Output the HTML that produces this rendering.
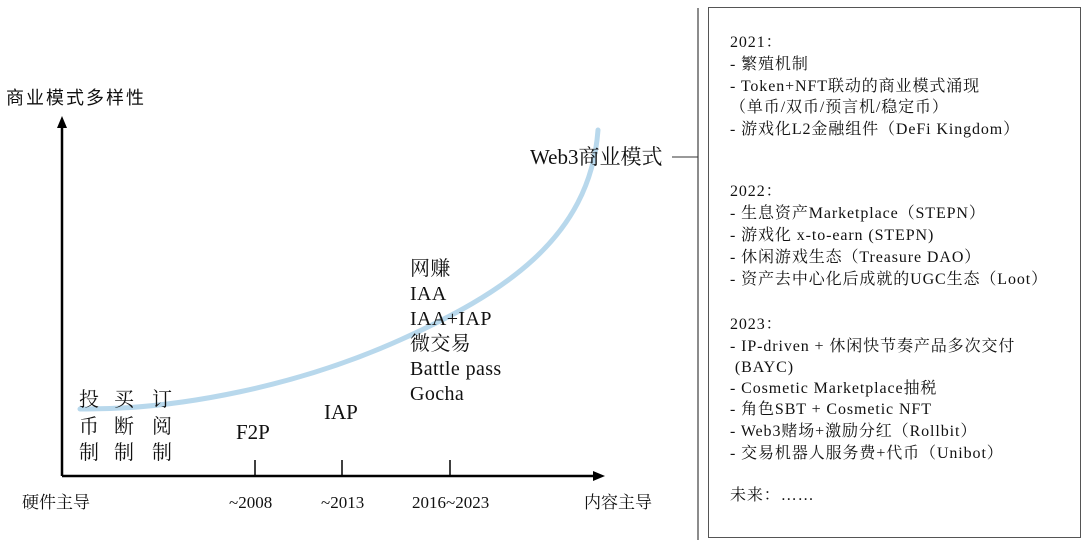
<!DOCTYPE html>
<html><head><meta charset="utf-8"><style>
body{margin:0;width:1087px;height:546px;background:#fff;overflow:hidden;position:relative;font-family:"Liberation Serif","Noto Serif CJK SC",serif;color:#111}
.t{position:absolute;white-space:nowrap;line-height:1}
.box{position:absolute;left:708px;top:7px;width:373px;height:531px;border:1px solid #555;box-sizing:border-box}
.r{position:absolute;left:730px;font-size:16px;letter-spacing:0.9px;white-space:nowrap;line-height:1}
</style></head><body>
<svg width="1087" height="546" style="position:absolute;left:0;top:0">
<line x1="698" y1="8" x2="698" y2="540" stroke="#666" stroke-width="1.5"/>
<line x1="672" y1="157" x2="698" y2="157" stroke="#333" stroke-width="1"/>
<line x1="62" y1="476" x2="62" y2="124" stroke="#000" stroke-width="2.5"/>
<polygon points="62,116 57,128 67,128" fill="#000"/>
<line x1="62" y1="476" x2="596" y2="476" stroke="#000" stroke-width="2.5"/>
<polygon points="605,476 593,471 593,481" fill="#000"/>
<line x1="255" y1="460" x2="255" y2="476" stroke="#000" stroke-width="1.5"/>
<line x1="342" y1="460" x2="342" y2="476" stroke="#000" stroke-width="1.5"/>
<line x1="450" y1="460" x2="450" y2="476" stroke="#000" stroke-width="1.5"/>
<path d="M80,409 C180,410 300,385 400,340 C500,295 590,240 598,130" fill="none" stroke="#b8d8ec" stroke-width="5" stroke-linecap="round"/>
</svg>
<div class="t" style="left:6px;top:89px;font-size:18px;letter-spacing:2px;font-family:'Liberation Sans','Noto Sans CJK SC',sans-serif">商业模式多样性</div>
<div class="t" style="left:22px;top:494px;font-size:17px">硬件主导</div>
<div class="t" style="left:229px;top:494px;font-size:17px">~2008</div>
<div class="t" style="left:321px;top:494px;font-size:17px">~2013</div>
<div class="t" style="left:412px;top:494px;font-size:17px">2016~2023</div>
<div class="t" style="left:584px;top:494px;font-size:17px">内容主导</div>
<div class="t" style="left:530px;top:147px;font-size:21px">Web3商业模式</div>
<div class="t" style="left:410px;top:257px;font-size:20px;letter-spacing:0.4px;line-height:25px">网赚<br>IAA<br>IAA+IAP<br>微交易<br>Battle pass<br>Gocha</div>
<div class="t" style="left:324px;top:402px;font-size:21px">IAP</div>
<div class="t" style="left:236px;top:422px;font-size:21px">F2P</div>
<div class="t" style="left:79px;top:387px;font-size:20px;line-height:26.5px">投<br>币<br>制</div>
<div class="t" style="left:114px;top:387px;font-size:20px;line-height:26.5px">买<br>断<br>制</div>
<div class="t" style="left:152px;top:387px;font-size:20px;line-height:26.5px">订<br>阅<br>制</div>
<div class="box"></div>
<div class="r" style="top:35px">2021：</div>
<div class="r" style="top:57px">- 繁殖机制</div>
<div class="r" style="top:79px">- Token+NFT联动的商业模式涌现</div>
<div class="r" style="top:100px">（单币/双币/预言机/稳定币）</div>
<div class="r" style="top:122px">- 游戏化L2金融组件（DeFi Kingdom）</div>
<div class="r" style="top:184px">2022：</div>
<div class="r" style="top:206px">- 生息资产Marketplace（STEPN）</div>
<div class="r" style="top:228px">- 游戏化 x-to-earn (STEPN)</div>
<div class="r" style="top:250px">- 休闲游戏生态（Treasure DAO）</div>
<div class="r" style="top:272px">- 资产去中心化后成就的UGC生态（Loot）</div>
<div class="r" style="top:317px">2023：</div>
<div class="r" style="top:339px">- IP-driven + 休闲快节奏产品多次交付</div>
<div class="r" style="top:360px">&nbsp;(BAYC)</div>
<div class="r" style="top:381px">- Cosmetic Marketplace抽税</div>
<div class="r" style="top:402px">- 角色SBT + Cosmetic NFT</div>
<div class="r" style="top:424px">- Web3赌场+激励分红（Rollbit）</div>
<div class="r" style="top:446px">- 交易机器人服务费+代币（Unibot）</div>
<div class="r" style="top:488px">未来：……</div>
</body></html>
